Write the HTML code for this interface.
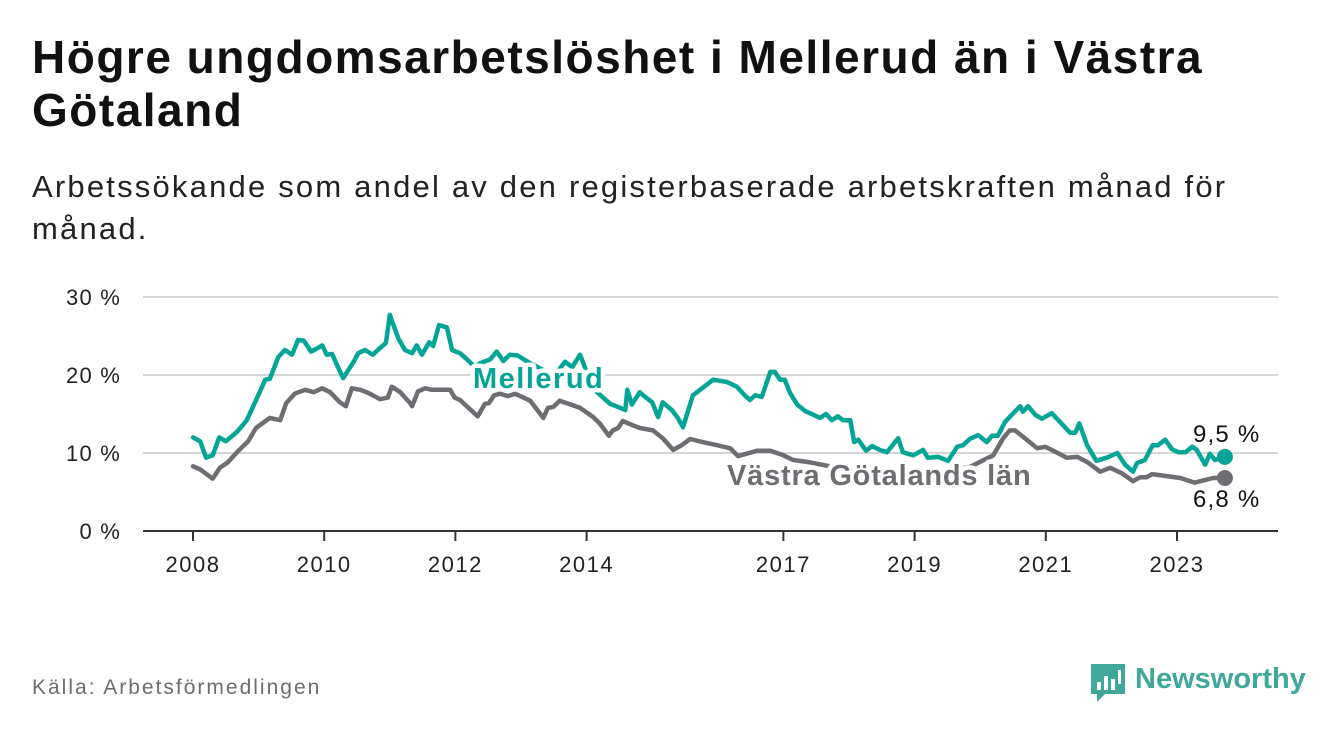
<!DOCTYPE html>
<html><head><meta charset="utf-8">
<style>
body{margin:0;width:1340px;height:734px;background:#fff;overflow:hidden;font-family:"Liberation Sans",sans-serif;color:#111;}
#title{position:absolute;left:32px;top:31px;font-size:46px;font-weight:bold;line-height:53px;margin:0;white-space:nowrap;letter-spacing:1.5px;}
#sub{position:absolute;left:32px;top:166px;font-size:31px;line-height:42px;margin:0;white-space:nowrap;color:#222;letter-spacing:2.2px;}
#src{position:absolute;left:32px;top:676px;font-size:21px;color:#6d6d6d;letter-spacing:2px;}
#logo{position:absolute;left:1089px;top:660px;}
</style></head><body>
<h1 id="title">Högre ungdomsarbetslöshet i Mellerud än i Västra<br>Götaland</h1>
<p id="sub">Arbetssökande som andel av den registerbaserade arbetskraften månad för<br>månad.</p>
<svg id="chart" width="1340" height="734" style="position:absolute;left:0;top:0" xmlns="http://www.w3.org/2000/svg"></svg>
<div id="src">Källa: Arbetsförmedlingen</div>
<svg id="logo" width="230" height="46">
<path d="M2 4 h34 v30 h-20 l-8 8 v-8 h-6 z" fill="#3fa89a"/>
<rect x="8" y="22" width="4" height="8" fill="#fff"/><rect x="15" y="16" width="4" height="14" fill="#fff"/><rect x="22" y="19" width="4" height="11" fill="#fff"/><rect x="29" y="10" width="3" height="14" fill="#fff"/>
<text x="46" y="28" font-size="29" font-weight="bold" fill="#3fa89a" font-family="Liberation Sans, sans-serif">Newsworthy</text>
</svg>
<script>
const yTicks=[0,10,20,30];
const yTickLabels=["0 %","10 %","20 %","30 %"];
const xTicks=[2008,2010,2012,2014,2017,2019,2021,2023];
const melYears=[2008.00,2008.11,2008.20,2008.30,2008.40,2008.50,2008.67,2008.82,2008.99,2009.10,2009.17,2009.30,2009.40,2009.51,2009.60,2009.69,2009.80,2009.91,2009.97,2010.04,2010.12,2010.21,2010.29,2010.38,2010.45,2010.52,2010.62,2010.74,2010.87,2010.94,2011.00,2011.13,2011.23,2011.34,2011.41,2011.49,2011.60,2011.66,2011.75,2011.87,2011.95,2012.07,2012.19,2012.30,2012.37,2012.53,2012.63,2012.73,2012.83,2012.95,2013.14,2013.37,2013.52,2013.67,2013.78,2013.90,2014.02,2014.16,2014.36,2014.51,2014.59,2014.62,2014.69,2014.81,2014.89,2015.00,2015.09,2015.16,2015.30,2015.39,2015.47,2015.62,2015.73,2015.93,2016.14,2016.29,2016.41,2016.49,2016.57,2016.67,2016.80,2016.87,2016.95,2017.02,2017.10,2017.21,2017.33,2017.56,2017.65,2017.74,2017.83,2017.91,2018.02,2018.08,2018.14,2018.26,2018.35,2018.47,2018.58,2018.75,2018.82,2018.98,2019.13,2019.20,2019.36,2019.51,2019.65,2019.74,2019.84,2019.97,2020.10,2020.18,2020.27,2020.38,2020.48,2020.61,2020.65,2020.73,2020.84,2020.94,2021.09,2021.19,2021.37,2021.45,2021.51,2021.63,2021.77,2021.93,2022.09,2022.21,2022.33,2022.39,2022.51,2022.63,2022.71,2022.82,2022.92,2023.02,2023.13,2023.23,2023.30,2023.43,2023.50,2023.58,2023.73];
const melValues=[12.0,11.5,9.4,9.7,12.0,11.5,12.7,14.2,17.3,19.4,19.5,22.3,23.2,22.6,24.5,24.4,23.0,23.5,23.8,22.6,22.7,21.0,19.6,20.8,21.7,22.8,23.2,22.6,23.6,24.1,27.7,24.7,23.2,22.8,23.8,22.6,24.2,23.7,26.4,26.1,23.2,22.8,21.9,21.0,21.5,22.0,23.0,21.8,22.6,22.5,21.5,20.5,20.0,21.7,21.0,22.6,20.0,17.8,16.3,15.8,15.5,18.1,16.2,17.8,17.2,16.5,14.6,16.5,15.5,14.5,13.3,17.4,18.1,19.4,19.1,18.5,17.4,16.8,17.4,17.2,20.4,20.4,19.4,19.4,17.7,16.2,15.4,14.5,15.0,14.2,14.7,14.2,14.2,11.4,11.7,10.3,10.9,10.4,10.1,11.9,10.1,9.7,10.4,9.4,9.5,9.0,10.8,11.0,11.8,12.3,11.4,12.2,12.2,14.0,14.9,16.0,15.3,16.0,14.9,14.4,15.1,14.2,12.6,12.6,13.8,11.0,9.0,9.4,10.0,8.5,7.6,8.7,9.1,11.0,11.0,11.7,10.5,10.1,10.1,10.8,10.4,8.5,9.9,9.1,9.5];
const vglYears=[2008.00,2008.11,2008.30,2008.41,2008.53,2008.67,2008.84,2008.96,2009.17,2009.33,2009.42,2009.55,2009.71,2009.84,2009.97,2010.09,2010.24,2010.33,2010.42,2010.55,2010.67,2010.85,2010.97,2011.03,2011.16,2011.31,2011.34,2011.43,2011.54,2011.64,2011.92,2011.99,2012.07,2012.34,2012.45,2012.51,2012.59,2012.68,2012.80,2012.91,2013.14,2013.34,2013.41,2013.49,2013.59,2013.90,2014.10,2014.20,2014.34,2014.40,2014.48,2014.55,2014.66,2014.81,2015.01,2015.16,2015.32,2015.45,2015.58,2015.77,2015.99,2016.19,2016.31,2016.60,2016.80,2017.00,2017.15,2017.41,2017.71,2018.02,2018.32,2018.63,2018.93,2019.23,2019.54,2019.84,2020.20,2020.35,2020.45,2020.53,2020.65,2020.87,2020.99,2021.09,2021.32,2021.48,2021.64,2021.83,2021.98,2022.16,2022.33,2022.44,2022.54,2022.62,2022.79,2023.05,2023.27,2023.55,2023.73];
const vglValues=[8.3,7.9,6.7,8.1,8.8,10.1,11.5,13.2,14.5,14.2,16.4,17.6,18.1,17.8,18.3,17.8,16.5,16.0,18.3,18.1,17.7,16.9,17.1,18.5,17.8,16.4,16.0,17.9,18.3,18.1,18.1,17.1,16.8,14.7,16.3,16.4,17.4,17.6,17.3,17.6,16.7,14.5,15.8,15.9,16.7,15.8,14.6,13.8,12.2,12.9,13.2,14.1,13.7,13.2,12.9,11.9,10.4,11.0,11.8,11.4,11.0,10.6,9.6,10.3,10.3,9.7,9.1,8.8,8.3,8.0,7.8,7.6,7.5,7.6,7.8,8.2,9.7,11.9,12.9,12.9,12.1,10.6,10.8,10.4,9.4,9.5,8.8,7.6,8.1,7.4,6.4,6.9,6.9,7.3,7.1,6.8,6.2,6.8,6.8];

const NS="http://www.w3.org/2000/svg";
const svg=document.getElementById('chart');
const X0=143,X1=1278;
const xs=y=>193+(y-2008)*65.6;
const ys=v=>531-v*7.8;
function mk(t,a){const e=document.createElementNS(NS,t);for(const k in a)e.setAttribute(k,a[k]);svg.appendChild(e);return e;}
yTicks.forEach((t,i)=>{
  if(t>0){const g=mk('line',{x1:X0,x2:X1,y1:ys(t),y2:ys(t),stroke:'#d6d6d6','stroke-width':2});
  
  }
  const l=mk('text',{x:121,y:ys(t)+8,'text-anchor':'end','font-size':22,fill:'#222','letter-spacing':1.2});
  l.textContent=yTickLabels[i];
  
  
});
const ax=mk('line',{x1:X0,x2:X1,y1:531,y2:531,stroke:'#333','stroke-width':2});


xTicks.forEach(t=>{
  const tk=mk('line',{x1:xs(t),x2:xs(t),y1:531,y2:541,stroke:'#333','stroke-width':2});
  
  
  const l=mk('text',{x:xs(t),y:572,'text-anchor':'middle','font-size':22,fill:'#222','letter-spacing':1.5});
  l.textContent=t;
  
  
});
function line(yrs,vals,col,name){
  const d=yrs.map((y,i)=>(i?'L':'M')+xs(y).toFixed(1)+' '+ys(vals[i]).toFixed(1)).join('');
  const p=mk('path',{d:d,fill:'none',stroke:col,'stroke-width':4.5,'stroke-linejoin':'round','stroke-linecap':'round'});
  
  
  const n=yrs.length-1;
  const c=mk('circle',{cx:xs(yrs[n]),cy:ys(vals[n]),r:8,fill:col});
  
  
}
line(vglYears,vglValues,'#6e6d72','vastra-gotaland-line');
line(melYears,melValues,'#04a596','mellerud-line');
function lab(x,y,txt,col,sz,bold,name,ls){
  const t=mk('text',{x:x,y:y,'font-size':sz,fill:col,'font-weight':bold?'bold':'normal',stroke:'#fff','stroke-width':9,'paint-order':'stroke','stroke-linejoin':'round','letter-spacing':ls});
  t.textContent=txt;
  
  
}
lab(473,388,'Mellerud','#04a596',29,true,'mellerud-label',1.5);
lab(727,485,'Västra Götalands län','#6e6d72',29,true,'vastra-gotaland-label',0.8);
lab(1193,442,'9,5 %','#111',24,false,'mellerud-end-value',1.2);
lab(1193,507,'6,8 %','#111',24,false,'vastra-gotaland-end-value',1.2);
</script>
</body></html>
